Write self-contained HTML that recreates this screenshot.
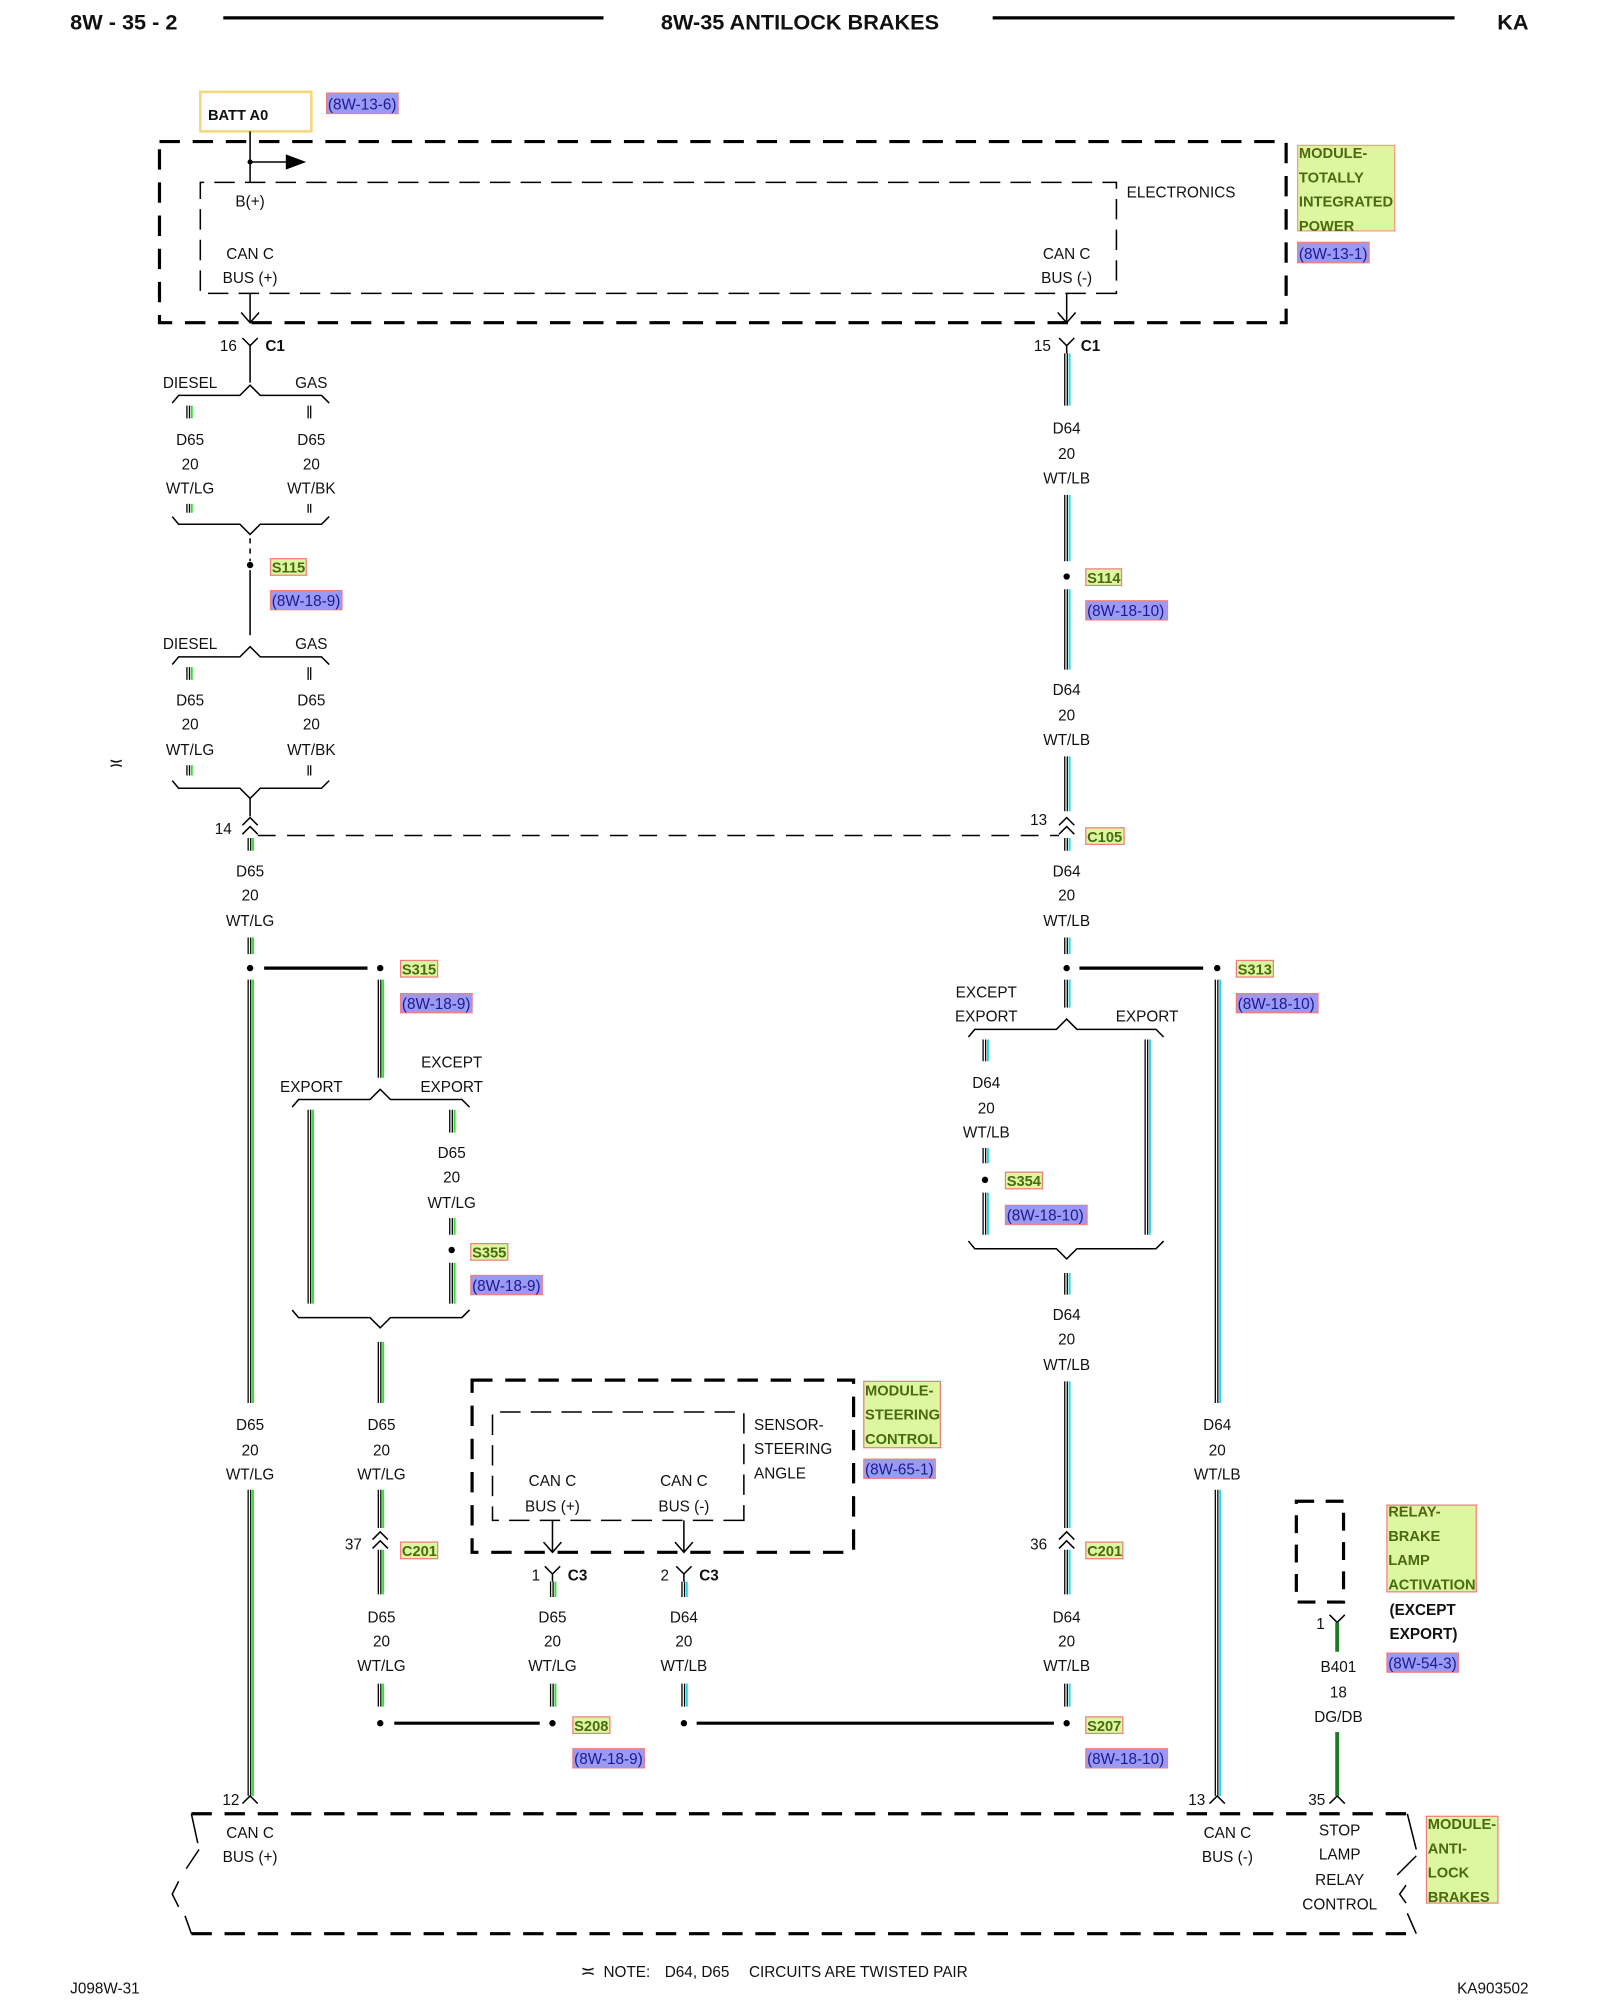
<!DOCTYPE html>
<html><head><meta charset="utf-8"><style>
html,body{margin:0;padding:0;background:#fff}
svg{display:block}
text{font-family:"Liberation Sans",Arial,sans-serif;font-size:12px;fill:#111}
.c{text-anchor:middle}
.b{font-weight:bold}
.tg{font-weight:bold;fill:#4a6a10;font-size:11.5px}
.rf{fill:#1a1a90;font-size:12px}
</style></head><body>
<svg width="1600" height="2000" viewBox="0 0 1254 1568" preserveAspectRatio="none" xmlns="http://www.w3.org/2000/svg">
<!-- header -->
<text x="55" y="23" class="b" style="font-size:17px">8W - 35 - 2</text>
<line x1="175" y1="14" x2="473" y2="14" stroke="#000" stroke-width="2.5"/>
<text x="627" y="23" class="b c" style="font-size:17px">8W-35 ANTILOCK BRAKES</text>
<line x1="778" y1="14" x2="1140" y2="14" stroke="#000" stroke-width="2.5"/>
<text x="1198" y="23" class="b" style="font-size:17px;text-anchor:end">KA</text>

<!-- top module -->
<rect x="157" y="72" width="87" height="31" fill="none" stroke="#f5d77a" stroke-width="2"/>
<text x="163" y="94" class="b" style="font-size:11.5px">BATT A0</text>
<rect x="256" y="73" width="56" height="16" fill="#9a9af5" stroke="#f08080"/>
<text x="257" y="86" class="rf">(8W-13-6)</text>
<rect x="125" y="111" width="883" height="142" fill="none" stroke="#000" stroke-width="2.5" stroke-dasharray="16,10"/>
<path d="M875 230 H157 V143 H875 Z" fill="none" stroke="#000" stroke-width="1.2" stroke-dasharray="16,8"/>
<path d="M196 103 V143 M196 127 H226" stroke="#000" stroke-width="1.2" fill="none"/>
<circle cx="196" cy="127" r="2" fill="#000"/>
<path d="M224 121 L240 127 L224 133 Z" fill="#000"/>
<text x="883" y="155">ELECTRONICS</text>
<text x="196" y="162" class="c">B(+)</text>
<text x="196" y="203" class="c">CAN C</text><text x="196" y="222" class="c">BUS (+)</text>
<text x="836" y="203" class="c">CAN C</text><text x="836" y="222" class="c">BUS (-)</text>
<path d="M196 230 V253 M189 245 L196 253 L203 245 M836 230 V253 M829 245 L836 253 L843 245" stroke="#000" stroke-width="1.2" fill="none"/>
<rect x="1017" y="114" width="76" height="67" fill="#dcf7a0" stroke="#f5a080"/>
<text x="1018" y="124" class="tg">MODULE-</text><text x="1018" y="143" class="tg">TOTALLY</text><text x="1018" y="162" class="tg">INTEGRATED</text><text x="1018" y="181" class="tg">POWER</text>
<rect x="1017" y="190" width="56" height="16" fill="#9a9af5" stroke="#f08080"/>
<text x="1018" y="203" class="rf">(8W-13-1)</text>

<!-- connectors & plain lines -->
<g stroke="#000" stroke-width="1.2" fill="none">
<path d="M190 265 L196 271 L202 265 M196 271 V300 M830 265 L836 271 L842 265 M836 271 V277"/>
<path d="M135 316 L140 310 L188 310 L196 302 L204 310 L252 310 L258 316"/>
<path d="M135 405 L140 411 L188 411 L196 419 L204 411 L252 411 L258 405"/>
<path d="M196 422 V440" stroke-dasharray="4,4"/>
<path d="M196 447 V498"/>
<path d="M135 521 L140 515 L188 515 L196 507 L204 515 L252 515 L258 521"/>
<path d="M135 612 L140 618 L188 618 L196 626 L204 618 L252 618 L258 612"/>
<path d="M196 626 V640 M190 647 L196 641 L202 647 M190 654 L196 648 L202 654"/>
<path d="M830 647 L836 641 L842 647 M830 654 L836 648 L842 654"/>
<path d="M202 655 H830" stroke-dasharray="14,9"/>
<path d="M229 868 L234 862 L290 862 L298 854 L306 862 L362 862 L368 868"/>
<path d="M229 1027 L234 1033 L290 1033 L298 1041 L306 1033 L362 1033 L368 1027"/>
<path d="M759 813 L764 807 L828 807 L836 799 L844 807 L906 807 L912 813"/>
<path d="M759 973 L764 979 L828 979 L836 987 L844 979 L906 979 L912 973"/>
<path d="M292 1207 L298 1201 L304 1207 M292 1214 L298 1208 L304 1214"/>
<path d="M830 1207 L836 1201 L842 1207 M830 1214 L836 1208 L842 1214"/>
<path d="M427 1228 L433 1234 L439 1228 M433 1234 V1240 M530 1228 L536 1234 L542 1228 M536 1234 V1240"/>
<path d="M433 1192 V1217 M426 1209 L433 1217 L440 1209 M536 1192 V1217 M529 1209 L536 1217 L543 1209"/>
<path d="M190 1414 L196 1408 L202 1414 M948 1414 L954 1408 L960 1414 M1042 1414 L1048 1408 L1054 1414"/>
<path d="M1042 1266 L1048 1272 L1054 1266"/>
<path d="M150 1422 L155 1445 M156 1450 L146 1465 M140 1475 L135 1485 L140 1495 M145 1502 L150 1516"/>
<path d="M1103 1422 L1110 1450 M1110 1455 L1095 1470 M1102 1478 L1097 1485 L1102 1492 M1103 1500 L1110 1516"/>
</g>
<g stroke="#000" stroke-width="2.5" fill="none">
<path d="M207 759 H288 M846 759 H943 M309 1351 H423 M546 1351 H826"/>
<path d="M150 1422 H1110 M150 1516 H1110" stroke-dasharray="16,10"/>
<rect x="370" y="1082" width="299" height="135" stroke-dasharray="16,10"/>
<rect x="1016" y="1177" width="37" height="79" stroke-dasharray="14,9"/>
</g>
<path d="M583 1192 H386 V1107 H583 Z" fill="none" stroke="#000" stroke-width="1.2" stroke-dasharray="16,8"/>

<!-- wires: black edges -->
<path fill="none" stroke="#000" stroke-width="1" d="
M146.5 318V328M148.5 318V328M146.5 395V402M148.5 395V402M146.5 523V533M148.5 523V533M146.5 600V608M148.5 600V608
M241.5 318V328M243.5 318V328M241.5 395V402M243.5 395V402M241.5 523V533M243.5 523V533M241.5 600V608M243.5 600V608
M194.5 657V667M196.5 657V667M194.5 735V748M196.5 735V748M194.5 768V1100M196.5 768V1100M194.5 1168V1408M196.5 1168V1408
M296.5 768V845M298.5 768V845M241.5 870V1022M243.5 870V1022M352.5 870V888M354.5 870V888M352.5 955V968M354.5 955V968M352.5 990V1022M354.5 990V1022
M296.5 1052V1100M298.5 1052V1100M296.5 1168V1198M298.5 1168V1198M296.5 1215V1250M298.5 1215V1250M296.5 1320V1338M298.5 1320V1338
M431.5 1240V1252M433.5 1240V1252M431.5 1320V1338M433.5 1320V1338
M834.5 277V318M836.5 277V318M834.5 388V440M836.5 388V440M834.5 462V525M836.5 462V525M834.5 593V636M836.5 593V636
M834.5 657V667M836.5 657V667M834.5 735V748M836.5 735V748M834.5 768V790M836.5 768V790
M770.5 815V832M772.5 815V832M770.5 900V912M772.5 900V912M770.5 935V968M772.5 935V968M897.5 815V968M899.5 815V968
M834.5 998V1015M836.5 998V1015M834.5 1083V1198M836.5 1083V1198M834.5 1215V1250M836.5 1215V1250M834.5 1320V1338M836.5 1320V1338
M952.5 768V1100M954.5 768V1100M952.5 1168V1408M954.5 1168V1408M534.5 1240V1252M536.5 1240V1252M534.5 1320V1338M536.5 1320V1338"/>
<path fill="none" stroke="#2ee02e" stroke-width="1.5" d="
M150.3 318V328M150.3 395V402M150.3 523V533M150.3 600V608
M198.3 657V667M198.3 735V748M198.3 768V1100M198.3 1168V1408
M300.3 768V845M245.3 870V1022M356.3 870V888M356.3 955V968M356.3 990V1022
M300.3 1052V1100M300.3 1168V1198M300.3 1215V1250M300.3 1320V1338M435.3 1240V1252M435.3 1320V1338"/>
<path fill="none" stroke="#22d8e8" stroke-width="1.5" d="
M838.3 277V318M838.3 388V440M838.3 462V525M838.3 593V636M838.3 657V667M838.3 735V748M838.3 768V790
M774.3 815V832M774.3 900V912M774.3 935V968M901.3 815V968
M838.3 998V1015M838.3 1083V1198M838.3 1215V1250M838.3 1320V1338
M956.3 768V1100M956.3 1168V1408M538.3 1240V1252M538.3 1320V1338"/>
<path d="M1048 1272V1295M1048 1358V1408" stroke="#1b7a2a" stroke-width="3"/>

<!-- dots -->
<g fill="#000">
<circle cx="196" cy="443" r="2.5"/><circle cx="836" cy="452" r="2.5"/>
<circle cx="196" cy="759" r="2.5"/><circle cx="298" cy="759" r="2.5"/>
<circle cx="836" cy="759" r="2.5"/><circle cx="954" cy="759" r="2.5"/>
<circle cx="354" cy="980" r="2.5"/><circle cx="772" cy="925" r="2.5"/>
<circle cx="298" cy="1351" r="2.5"/><circle cx="433" cy="1351" r="2.5"/>
<circle cx="536" cy="1351" r="2.5"/><circle cx="836" cy="1351" r="2.5"/>
</g>

<!-- labels -->
<text x="179" y="275" class="c">16</text><text x="208" y="275" class="b">C1</text>
<text x="817" y="275" class="c">15</text><text x="847" y="275" class="b">C1</text>
<text x="149" y="304" class="c">DIESEL</text><text x="244" y="304" class="c">GAS</text>
<text x="149" y="349" class="c">D65</text><text x="149" y="368" class="c">20</text><text x="149" y="387" class="c">WT/LG</text>
<text x="244" y="349" class="c">D65</text><text x="244" y="368" class="c">20</text><text x="244" y="387" class="c">WT/BK</text>
<text x="149" y="509" class="c">DIESEL</text><text x="244" y="509" class="c">GAS</text>
<text x="149" y="553" class="c">D65</text><text x="149" y="572" class="c">20</text><text x="149" y="592" class="c">WT/LG</text>
<text x="244" y="553" class="c">D65</text><text x="244" y="572" class="c">20</text><text x="244" y="592" class="c">WT/BK</text>
<text x="91" y="603" class="c" style="font-size:14px">≍</text>
<text x="836" y="340" class="c">D64</text><text x="836" y="360" class="c">20</text><text x="836" y="379" class="c">WT/LB</text>
<text x="836" y="545" class="c">D64</text><text x="836" y="565" class="c">20</text><text x="836" y="584" class="c">WT/LB</text>
<text x="175" y="654" class="c">14</text><text x="814" y="647" class="c">13</text>
<text x="196" y="687" class="c">D65</text><text x="196" y="706" class="c">20</text><text x="196" y="726" class="c">WT/LG</text>
<text x="836" y="687" class="c">D64</text><text x="836" y="706" class="c">20</text><text x="836" y="726" class="c">WT/LB</text>
<text x="354" y="837" class="c">EXCEPT</text><text x="354" y="856" class="c">EXPORT</text><text x="244" y="856" class="c">EXPORT</text>
<text x="354" y="908" class="c">D65</text><text x="354" y="927" class="c">20</text><text x="354" y="947" class="c">WT/LG</text>
<text x="773" y="782" class="c">EXCEPT</text><text x="773" y="801" class="c">EXPORT</text><text x="899" y="801" class="c">EXPORT</text>
<text x="773" y="853" class="c">D64</text><text x="773" y="873" class="c">20</text><text x="773" y="892" class="c">WT/LB</text>
<text x="836" y="1035" class="c">D64</text><text x="836" y="1054" class="c">20</text><text x="836" y="1074" class="c">WT/LB</text>
<text x="196" y="1121" class="c">D65</text><text x="196" y="1141" class="c">20</text><text x="196" y="1160" class="c">WT/LG</text>
<text x="299" y="1121" class="c">D65</text><text x="299" y="1141" class="c">20</text><text x="299" y="1160" class="c">WT/LG</text>
<text x="954" y="1121" class="c">D64</text><text x="954" y="1141" class="c">20</text><text x="954" y="1160" class="c">WT/LB</text>
<text x="591" y="1121">SENSOR-</text><text x="591" y="1140">STEERING</text><text x="591" y="1159">ANGLE</text>
<text x="433" y="1165" class="c">CAN C</text><text x="433" y="1185" class="c">BUS (+)</text>
<text x="536" y="1165" class="c">CAN C</text><text x="536" y="1185" class="c">BUS (-)</text>
<text x="277" y="1215" class="c">37</text><text x="814" y="1215" class="c">36</text>
<text x="420" y="1239" class="c">1</text><text x="445" y="1239" class="b">C3</text>
<text x="521" y="1239" class="c">2</text><text x="548" y="1239" class="b">C3</text>
<text x="299" y="1272" class="c">D65</text><text x="299" y="1291" class="c">20</text><text x="299" y="1310" class="c">WT/LG</text>
<text x="433" y="1272" class="c">D65</text><text x="433" y="1291" class="c">20</text><text x="433" y="1310" class="c">WT/LG</text>
<text x="536" y="1272" class="c">D64</text><text x="536" y="1291" class="c">20</text><text x="536" y="1310" class="c">WT/LB</text>
<text x="836" y="1272" class="c">D64</text><text x="836" y="1291" class="c">20</text><text x="836" y="1310" class="c">WT/LB</text>
<text x="1035" y="1277" class="c">1</text>
<text x="1049" y="1311" class="c">B401</text><text x="1049" y="1331" class="c">18</text><text x="1049" y="1350" class="c">DG/DB</text>
<text x="181" y="1415" class="c">12</text><text x="938" y="1415" class="c">13</text><text x="1032" y="1415" class="c">35</text>
<text x="196" y="1441" class="c">CAN C</text><text x="196" y="1460" class="c">BUS (+)</text>
<text x="962" y="1441" class="c">CAN C</text><text x="962" y="1460" class="c">BUS (-)</text>
<text x="1050" y="1439" class="c">STOP</text><text x="1050" y="1458" class="c">LAMP</text><text x="1050" y="1478" class="c">RELAY</text><text x="1050" y="1497" class="c">CONTROL</text>
<text x="1089" y="1266" class="b">(EXCEPT</text><text x="1089" y="1285" class="b">EXPORT)</text>

<!-- tags -->
<g stroke="#f08080" stroke-width="1">
<rect x="212" y="438" width="28" height="13" fill="#dcf7a0"/>
<rect x="851" y="446" width="28" height="13" fill="#dcf7a0"/>
<rect x="851" y="649" width="30" height="13" fill="#dcf7a0"/>
<rect x="314" y="753" width="29" height="13" fill="#dcf7a0"/>
<rect x="969" y="753" width="29" height="13" fill="#dcf7a0"/>
<rect x="788" y="919" width="29" height="13" fill="#dcf7a0"/>
<rect x="369" y="975" width="29" height="13" fill="#dcf7a0"/>
<rect x="314" y="1209" width="29" height="13" fill="#dcf7a0"/>
<rect x="851" y="1209" width="29" height="13" fill="#dcf7a0"/>
<rect x="449" y="1346" width="29" height="13" fill="#dcf7a0"/>
<rect x="851" y="1346" width="29" height="13" fill="#dcf7a0"/>
<rect x="677" y="1083" width="60" height="52" fill="#dcf7a0"/>
<rect x="1087" y="1180" width="70" height="68" fill="#dcf7a0"/>
<rect x="1118" y="1424" width="56" height="68" fill="#dcf7a0"/>
<rect x="212" y="463" width="56" height="15" fill="#9a9af5"/>
<rect x="851" y="471" width="64" height="15" fill="#9a9af5"/>
<rect x="314" y="779" width="56" height="15" fill="#9a9af5"/>
<rect x="969" y="779" width="64" height="15" fill="#9a9af5"/>
<rect x="788" y="945" width="64" height="15" fill="#9a9af5"/>
<rect x="369" y="1000" width="56" height="15" fill="#9a9af5"/>
<rect x="677" y="1144" width="56" height="15" fill="#9a9af5"/>
<rect x="1087" y="1296" width="56" height="15" fill="#9a9af5"/>
<rect x="449" y="1371" width="56" height="15" fill="#9a9af5"/>
<rect x="851" y="1371" width="64" height="15" fill="#9a9af5"/>
</g>
<text x="213" y="449" class="tg">S115</text>
<text x="852" y="457" class="tg">S114</text>
<text x="852" y="660" class="tg">C105</text>
<text x="315" y="764" class="tg">S315</text>
<text x="970" y="764" class="tg">S313</text>
<text x="789" y="930" class="tg">S354</text>
<text x="370" y="986" class="tg">S355</text>
<text x="315" y="1220" class="tg">C201</text>
<text x="852" y="1220" class="tg">C201</text>
<text x="450" y="1357" class="tg">S208</text>
<text x="852" y="1357" class="tg">S207</text>
<text x="678" y="1094" class="tg">MODULE-</text><text x="678" y="1113" class="tg">STEERING</text><text x="678" y="1132" class="tg">CONTROL</text>
<text x="1088" y="1189" class="tg">RELAY-</text><text x="1088" y="1208" class="tg">BRAKE</text><text x="1088" y="1227" class="tg">LAMP</text><text x="1088" y="1246" class="tg">ACTIVATION</text>
<text x="1119" y="1434" class="tg">MODULE-</text><text x="1119" y="1453" class="tg">ANTI-</text><text x="1119" y="1472" class="tg">LOCK</text><text x="1119" y="1491" class="tg">BRAKES</text>
<text x="213" y="475" class="rf">(8W-18-9)</text>
<text x="852" y="483" class="rf">(8W-18-10)</text>
<text x="315" y="791" class="rf">(8W-18-9)</text>
<text x="970" y="791" class="rf">(8W-18-10)</text>
<text x="789" y="957" class="rf">(8W-18-10)</text>
<text x="370" y="1012" class="rf">(8W-18-9)</text>
<text x="678" y="1156" class="rf">(8W-65-1)</text>
<text x="1088" y="1308" class="rf">(8W-54-3)</text>
<text x="450" y="1383" class="rf">(8W-18-9)</text>
<text x="852" y="1383" class="rf">(8W-18-10)</text>

<!-- footer -->
<text x="55" y="1563">J098W-31</text>
<text x="455" y="1550" style="font-size:14px">≍</text>
<text x="473" y="1550">NOTE:</text><text x="521" y="1550">D64, D65</text><text x="587" y="1550">CIRCUITS ARE TWISTED PAIR</text>
<text x="1198" y="1563" style="text-anchor:end">KA903502</text>
</svg>
</body></html>
